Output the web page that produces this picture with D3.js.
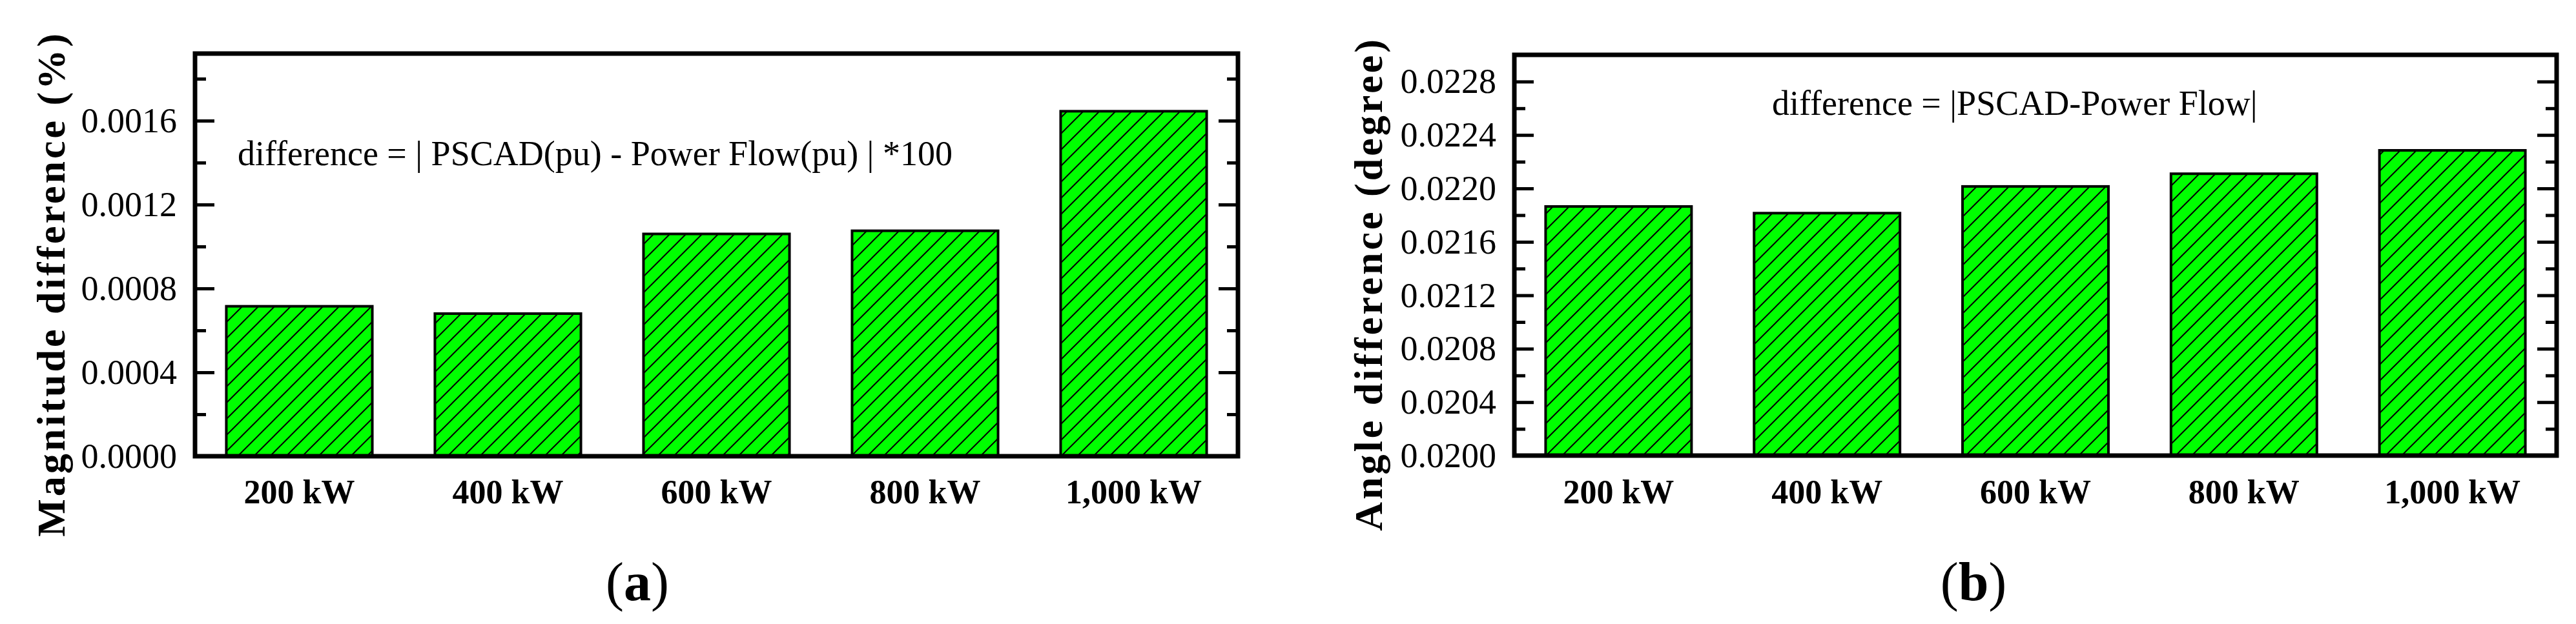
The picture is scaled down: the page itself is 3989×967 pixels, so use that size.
<!DOCTYPE html>
<html>
<head>
<meta charset="utf-8">
<script src="https://cdn.jsdelivr.net/npm/d3@7"></script>
<style>
  body { margin: 0; background: #fff; }
  text { font-family: "Liberation Serif", "Times New Roman", serif; }
</style>
</head>
<body>
<script>
// data
const categories = ["200 kW", "400 kW", "600 kW", "800 kW", "1,000 kW"];
const magnitudeValues = [0.000715, 0.000680, 0.001060, 0.001075, 0.001645];
const angleValues = [0.021865, 0.021815, 0.022015, 0.022110, 0.022285];
const magnitudeTicks = [0, 0.0004, 0.0008, 0.0012, 0.0016];
const angleTicks = [0.0200, 0.0204, 0.0208, 0.0212, 0.0216, 0.0220, 0.0224, 0.0228];

const W = 3989, H = 967;
const svg = d3.select("body").append("svg").attr("width", W).attr("height", H);

// hatch pattern
svg.append("defs").append("pattern")
    .attr("id", "hatch")
    .attr("patternUnits", "userSpaceOnUse")
    .attr("width", 25).attr("height", 25)
    .call(p => {
        p.append("rect").attr("width", 25).attr("height", 25).attr("fill", "#00ff00");
        p.append("path").attr("d", "M-5,30 L30,-5 M-5,5 L5,-5 M20,30 L30,20")
            .attr("stroke", "#000").attr("stroke-width", 2);
    });

function panel(opts) {
    const {x0, x1, y0, y1, domain, ticks, values, title, titleX, titleY, note, noteX, noteY, tag, tagX} = opts;
    const g = svg.append("g");
    const x = d3.scaleBand().domain(categories).range([x0, x1]).paddingInner(0.3).paddingOuter(0.15);
    const y = d3.scaleLinear().domain(domain).range([y1, y0]);

    // bars
    g.selectAll("rect.bar").data(values).enter().append("rect")
        .attr("x", (d, i) => x(categories[i]))
        .attr("y", d => y(d))
        .attr("width", x.bandwidth())
        .attr("height", d => y(domain[0]) - y(d))
        .attr("fill", "url(#hatch)")
        .attr("stroke", "#000").attr("stroke-width", 4);

    // minor ticks
    const minor = ticks.map(t => t + (ticks[1] - ticks[0]) / 2).filter(t => t < domain[1]);
    // left axis
    g.append("g").attr("transform", `translate(${x0},0)`)
        .call(d3.axisRight(y).tickValues(ticks).tickSize(30).tickFormat(""))
        .call(a => a.select(".domain").remove())
        .call(a => a.selectAll("line").attr("stroke-width", 5));
    g.append("g").attr("transform", `translate(${x0},0)`)
        .call(d3.axisRight(y).tickValues(minor).tickSize(17).tickFormat(""))
        .call(a => a.select(".domain").remove())
        .call(a => a.selectAll("line").attr("stroke-width", 5));
    // right axis
    g.append("g").attr("transform", `translate(${x1},0)`)
        .call(d3.axisLeft(y).tickValues(ticks).tickSize(30).tickFormat(""))
        .call(a => a.select(".domain").remove())
        .call(a => a.selectAll("line").attr("stroke-width", 5));
    g.append("g").attr("transform", `translate(${x1},0)`)
        .call(d3.axisLeft(y).tickValues(minor).tickSize(17).tickFormat(""))
        .call(a => a.select(".domain").remove())
        .call(a => a.selectAll("line").attr("stroke-width", 5));
    // tick labels
    g.selectAll("text.tl").data(ticks).enter().append("text")
        .attr("x", x0 - 28).attr("y", d => y(d) + 18)
        .attr("text-anchor", "end").attr("font-size", 54)
        .text(d => d3.format(".4f")(d));

    // frame
    g.append("rect").attr("x", x0).attr("y", y0).attr("width", x1 - x0).attr("height", y1 - y0)
        .attr("fill", "none").attr("stroke", "#000").attr("stroke-width", 7);

    // category labels
    g.selectAll("text.cl").data(categories).enter().append("text")
        .attr("x", d => x(d) + x.bandwidth() / 2).attr("y", 780)
        .attr("text-anchor", "middle").attr("font-size", 52).attr("font-weight", "bold")
        .text(d => d);

    // y title
    g.append("text").attr("transform", `translate(${titleX},${titleY}) rotate(-90)`)
        .attr("text-anchor", "middle").attr("font-size", 62).attr("font-weight", "bold")
        .attr("letter-spacing", 4).text(title);

    // formula note
    g.append("text").attr("x", noteX).attr("y", noteY).attr("font-size", 54).text(note);

    // panel tag
    const t = g.append("text").attr("x", tagX).attr("y", 930).attr("text-anchor", "middle").attr("font-size", 84);
    t.append("tspan").text("(");
    t.append("tspan").attr("font-weight", "bold").text(tag);
    t.append("tspan").text(")");
}

panel({
    x0: 302, x1: 1917, y0: 83, y1: 707,
    domain: [0, 0.00192], ticks: magnitudeTicks, values: magnitudeValues,
    title: "Magnitude difference (%)", titleX: 100, titleY: 440,
    note: "difference = | PSCAD(pu) - Power Flow(pu) | *100", noteX: 368, noteY: 256,
    tag: "a", tagX: 987
});
panel({
    x0: 2345, x1: 3959, y0: 85, y1: 706,
    domain: [0.0200, 0.0230], ticks: angleTicks, values: angleValues,
    title: "Angle difference (degree)", titleX: 2140, titleY: 440,
    note: "difference = |PSCAD-Power Flow|", noteX: 2744, noteY: 178,
    tag: "b", tagX: 3056
});
</script>
</body>
</html>
